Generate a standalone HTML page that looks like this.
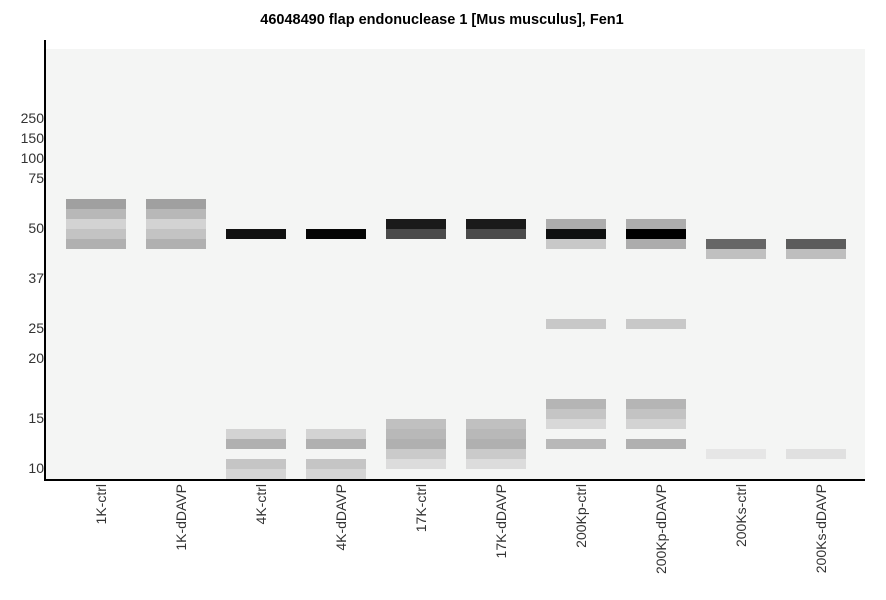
<!DOCTYPE html>
<html><head><meta charset="utf-8"><style>
body{margin:0;background:#fff;width:886px;height:595px;overflow:hidden;font-family:"Liberation Sans",sans-serif;}
</style></head><body>
<svg width="886" height="595" xmlns="http://www.w3.org/2000/svg" font-family="Liberation Sans, sans-serif">
<text x="442" y="24" text-anchor="middle" font-size="14.5" font-weight="bold" fill="#000">46048490 flap endonuclease 1 [Mus musculus], Fen1</text>
<rect x="46" y="49" width="819" height="430" fill="#f4f5f4"/>
<g font-size="14" fill="#333" text-anchor="end">
<text x="44" y="123">250</text><text x="44" y="143">150</text><text x="44" y="163">100</text><text x="44" y="183">75</text>
<text x="44" y="233">50</text><text x="44" y="283">37</text><text x="44" y="333">25</text><text x="44" y="363">20</text>
<text x="44" y="423">15</text><text x="44" y="473">10</text>
</g>
<g>
<rect x="66" y="199" width="60" height="10" fill="#a0a0a0"/><rect x="66" y="209" width="60" height="10" fill="#b8b8b8"/><rect x="66" y="219" width="60" height="10" fill="#d3d3d3"/><rect x="66" y="229" width="60" height="10" fill="#c3c3c3"/><rect x="66" y="239" width="60" height="10" fill="#b0b0b0"/>
<rect x="146" y="199" width="60" height="10" fill="#a0a0a0"/><rect x="146" y="209" width="60" height="10" fill="#b8b8b8"/><rect x="146" y="219" width="60" height="10" fill="#d3d3d3"/><rect x="146" y="229" width="60" height="10" fill="#c3c3c3"/><rect x="146" y="239" width="60" height="10" fill="#b0b0b0"/>
<rect x="226" y="229" width="60" height="10" fill="#111"/>
<rect x="226" y="429" width="60" height="10" fill="#d3d3d3"/><rect x="226" y="439" width="60" height="10" fill="#b0b0b0"/><rect x="226" y="459" width="60" height="10" fill="#c5c5c5"/><rect x="226" y="469" width="60" height="10" fill="#d5d5d5"/>
<rect x="306" y="229" width="60" height="10" fill="#050505"/>
<rect x="306" y="429" width="60" height="10" fill="#d3d3d3"/><rect x="306" y="439" width="60" height="10" fill="#b0b0b0"/><rect x="306" y="459" width="60" height="10" fill="#c5c5c5"/><rect x="306" y="469" width="60" height="10" fill="#d5d5d5"/>
<rect x="386" y="219" width="60" height="10" fill="#1a1a1a"/><rect x="386" y="229" width="60" height="10" fill="#4a4a4a"/>
<rect x="386" y="419" width="60" height="10" fill="#c0c0c0"/><rect x="386" y="429" width="60" height="10" fill="#b8b8b8"/><rect x="386" y="439" width="60" height="10" fill="#b0b0b0"/><rect x="386" y="449" width="60" height="10" fill="#cacaca"/><rect x="386" y="459" width="60" height="10" fill="#dcdcdc"/>
<rect x="466" y="219" width="60" height="10" fill="#1a1a1a"/><rect x="466" y="229" width="60" height="10" fill="#4a4a4a"/>
<rect x="466" y="419" width="60" height="10" fill="#c0c0c0"/><rect x="466" y="429" width="60" height="10" fill="#b8b8b8"/><rect x="466" y="439" width="60" height="10" fill="#b0b0b0"/><rect x="466" y="449" width="60" height="10" fill="#cacaca"/><rect x="466" y="459" width="60" height="10" fill="#dcdcdc"/>
<rect x="546" y="219" width="60" height="10" fill="#adadad"/><rect x="546" y="229" width="60" height="10" fill="#0f1010"/><rect x="546" y="239" width="60" height="10" fill="#c8c8c8"/>
<rect x="546" y="319" width="60" height="10" fill="#c8c8c8"/>
<rect x="546" y="399" width="60" height="10" fill="#b5b5b5"/><rect x="546" y="409" width="60" height="10" fill="#c5c5c5"/><rect x="546" y="419" width="60" height="10" fill="#d8d8d8"/><rect x="546" y="439" width="60" height="10" fill="#b8b8b8"/>
<rect x="626" y="219" width="60" height="10" fill="#adadad"/><rect x="626" y="229" width="60" height="10" fill="#000"/><rect x="626" y="239" width="60" height="10" fill="#acacac"/>
<rect x="626" y="319" width="60" height="10" fill="#c8c8c8"/>
<rect x="626" y="399" width="60" height="10" fill="#b5b5b5"/><rect x="626" y="409" width="60" height="10" fill="#c3c3c3"/><rect x="626" y="419" width="60" height="10" fill="#d3d3d3"/><rect x="626" y="439" width="60" height="10" fill="#b0b0b0"/>
<rect x="706" y="239" width="60" height="10" fill="#666"/><rect x="706" y="249" width="60" height="10" fill="#c0c0c0"/>
<rect x="706" y="449" width="60" height="10" fill="#e6e6e6"/>
<rect x="786" y="239" width="60" height="10" fill="#5c5c5c"/><rect x="786" y="249" width="60" height="10" fill="#bebebe"/>
<rect x="786" y="449" width="60" height="10" fill="#e0e0e0"/>
</g>
<rect x="44" y="40" width="2" height="441" fill="#000"/>
<rect x="44" y="479" width="821" height="2" fill="#000"/>
<g font-size="14" fill="#333">
<text transform="translate(106,484) rotate(-90)" text-anchor="end">1K-ctrl</text>
<text transform="translate(186,484) rotate(-90)" text-anchor="end">1K-dDAVP</text>
<text transform="translate(266,484) rotate(-90)" text-anchor="end">4K-ctrl</text>
<text transform="translate(346,484) rotate(-90)" text-anchor="end">4K-dDAVP</text>
<text transform="translate(426,484) rotate(-90)" text-anchor="end">17K-ctrl</text>
<text transform="translate(506,484) rotate(-90)" text-anchor="end">17K-dDAVP</text>
<text transform="translate(586,484) rotate(-90)" text-anchor="end">200Kp-ctrl</text>
<text transform="translate(666,484) rotate(-90)" text-anchor="end">200Kp-dDAVP</text>
<text transform="translate(746,484) rotate(-90)" text-anchor="end">200Ks-ctrl</text>
<text transform="translate(826,484) rotate(-90)" text-anchor="end">200Ks-dDAVP</text>
</g>
</svg>
</body></html>
